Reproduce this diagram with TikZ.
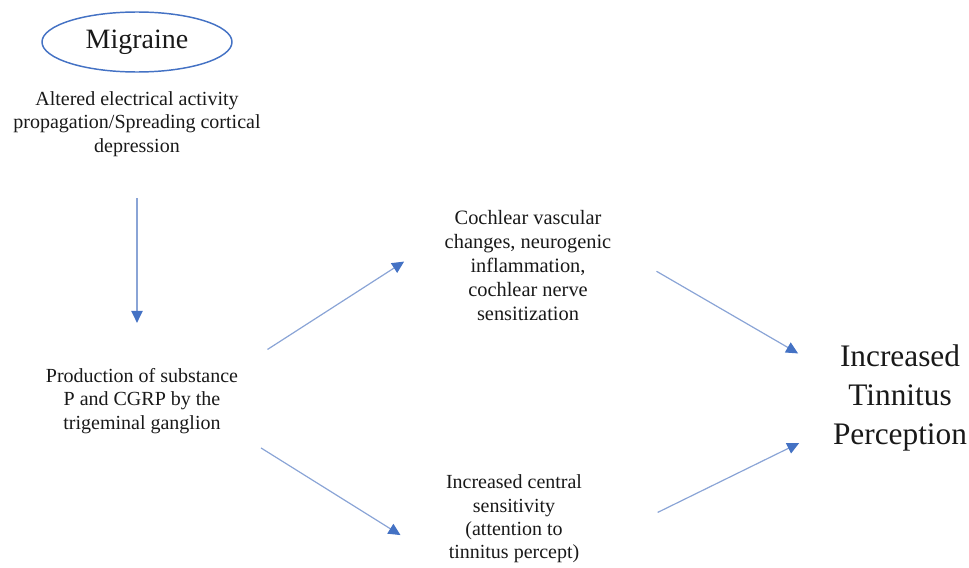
\documentclass[tikz,border=0pt]{standalone}
\usepackage{fontspec}
\setmainfont{Liberation Serif}
\usepackage{tikz}
\usetikzlibrary{arrows.meta,positioning,shapes.geometric}
\definecolor{edge}{RGB}{68,114,196}
\definecolor{shaft}{RGB}{138,164,214}
\definecolor{ink}{RGB}{25,25,25}

\begin{document}
\begin{tikzpicture}[x=0.75pt,y=-0.75pt,font=\fontsize{15}{17.5}\selectfont,text=ink]
\tikzset{txt/.style={inner sep=0pt,align=center},
  mig/.style={ellipse,draw=edge,line width=1.1pt,minimum width=142.5pt,minimum height=45pt,inner sep=0pt,font=\fontsize{21}{24}\selectfont},
  big/.style={txt,font=\fontsize{23.5}{29}\selectfont},
  arr/.style={-{Triangle[length=9pt,width=8.5pt,color=edge,fill=edge]},draw=shaft,line width=0.9pt}}
\useasboundingbox (0,0) rectangle (969,567);
\node[mig] (mig) at (137,42) {Migraine};
\node[txt] (alt) at (137,124) {Altered electrical activity\\propagation/Spreading cortical\\depression};
\node[txt] (prod) at (142,401) {Production of substance\\P and CGRP by the\\trigeminal ganglion};
\node[txt,font=\fontsize{15.3}{18}\selectfont] (coch) at (528,266) {Cochlear vascular\\changes, neurogenic\\inflammation,\\cochlear nerve\\sensitization};
\node[txt] (cent) at (514,519) {Increased central\\sensitivity\\(attention to\\tinnitus percept)};
\node[big] (itp) at (900,398) {Increased\\Tinnitus\\Perception};
\draw[arr,shorten <=31pt,shorten >=34pt] (alt.south) -- (alt.south |- prod.north);
\draw[arr,shorten <=26pt,shorten >=36pt] (prod.north east) -- (coch.160);
\draw[arr,shorten <=20pt,shorten >=40pt] (prod.south east) -- (cent.south west);
\draw[arr,shorten <=39pt,shorten >=30pt] (coch.14) -- (itp.160);
\draw[arr,shorten <=63pt,shorten >=28pt] (cent.-24) -- (itp.203);
\end{tikzpicture}
\end{document}
